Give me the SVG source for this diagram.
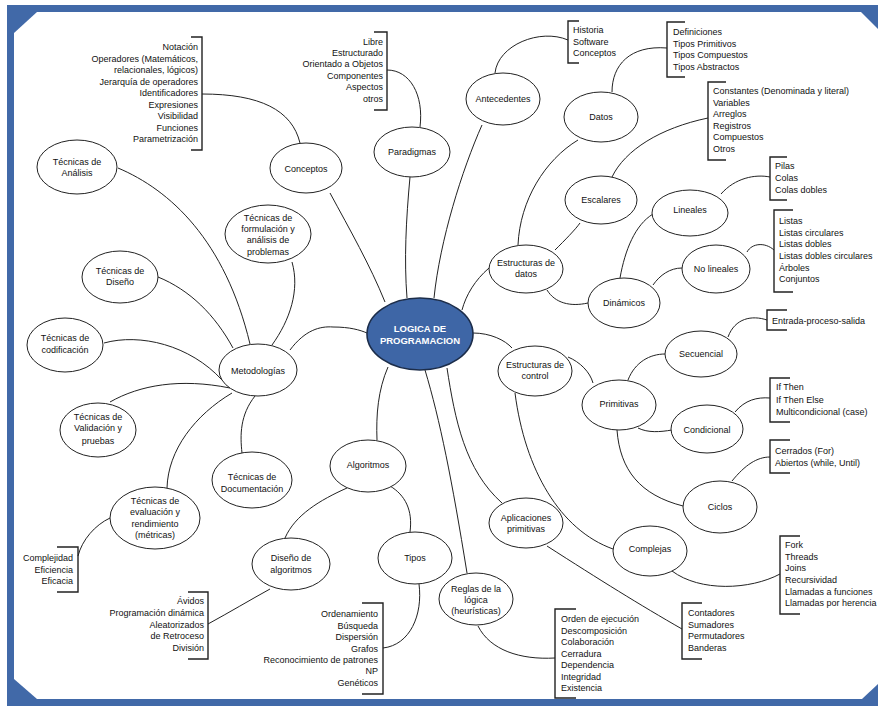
<svg xmlns="http://www.w3.org/2000/svg" width="878" height="706" viewBox="0 0 878 706">
<style>
.n{fill:#fff;stroke:#222;stroke-width:1}
.t{font-family:"Liberation Sans",Arial,sans-serif;font-size:9px;fill:#111;text-anchor:middle}
.l{font-family:"Liberation Sans",Arial,sans-serif;font-size:9px;fill:#111;text-anchor:start}
.r{font-family:"Liberation Sans",Arial,sans-serif;font-size:9px;fill:#111;text-anchor:end}
.c{fill:none;stroke:#222;stroke-width:1}
.b{fill:none;stroke:#222;stroke-width:1.4}
.f{fill:#4169a8}
</style>
<rect width="878" height="706" fill="#fff"/>
<g id="frame">
<rect class="f" x="7" y="5" width="871" height="7"/>
<rect class="f" x="7" y="5" width="7" height="701"/>
<rect class="f" x="7" y="699" width="871" height="7"/>
<polygon class="f" points="14,12 37,12 14,33"/>
<polygon class="f" points="14,679 14,699 37,699"/>
<polygon class="f" points="861,12 878,12 878,29"/>
<polygon class="f" points="862,699 878,699 878,684"/>
</g>
<g id="connectors">
<path class="c" d="M202,94 C260,94 292,110 300,143"/>
<path class="c" d="M387,70 C410,70 424,95 420,127"/>
<path class="c" d="M495,73 C498,45 540,28 568,40"/>
<path class="c" d="M667,48 C630,45 612,65 612,92"/>
<path class="c" d="M612,177 C625,150 660,128 708,118"/>
<path class="c" d="M721,194 C735,178 755,174 770,177"/>
<path class="c" d="M747,252 C752,243 765,242 774,250"/>
<path class="c" d="M728,337 C735,318 752,315 767,320"/>
<path class="c" d="M735,412 C745,400 757,397 770,398"/>
<path class="c" d="M732,481 C745,465 757,457 770,457"/>
<path class="c" d="M672,571 C700,592 750,590 780,574"/>
<path class="c" d="M547,546 C600,580 640,605 682,629"/>
<path class="c" d="M478,626 C490,650 520,660 555,658"/>
<path class="c" d="M419,584 C423,615 410,645 383,648"/>
<path class="c" d="M270,589 C250,600 230,612 208,624"/>
<path class="c" d="M110,518 C95,525 82,540 78,556"/>
<path class="c" d="M330,193 C350,230 370,265 385,302"/>
<path class="c" d="M410,177 C406,220 404,260 407,298"/>
<path class="c" d="M482,125 C462,170 440,240 434,298"/>
<path class="c" d="M578,140 C545,160 520,200 518,245"/>
<path class="c" d="M555,250 C565,240 575,230 580,223"/>
<path class="c" d="M620,278 C625,250 635,225 653,214"/>
<path class="c" d="M653,285 C660,275 670,268 682,268"/>
<path class="c" d="M547,290 C555,303 570,307 588,303"/>
<path class="c" d="M489,268 C475,280 466,295 462,310"/>
<path class="c" d="M473,333 C490,333 505,340 512,348"/>
<path class="c" d="M568,357 C580,362 590,372 593,383"/>
<path class="c" d="M628,380 C635,362 650,354 665,354"/>
<path class="c" d="M638,428 C648,433 660,432 672,430"/>
<path class="c" d="M617,430 C620,470 640,495 683,506"/>
<path class="c" d="M515,393 C525,470 560,530 613,549"/>
<path class="c" d="M447,368 C455,420 465,470 502,503"/>
<path class="c" d="M425,370 C440,420 452,480 467,573"/>
<path class="c" d="M388,367 C378,390 376,415 377,440"/>
<path class="c" d="M347,488 C320,500 295,515 285,538"/>
<path class="c" d="M390,486 C405,495 413,510 410,532"/>
<path class="c" d="M290,350 C305,330 320,326 333,327 C350,327 360,330 367,333"/>
<path class="c" d="M292,262 C300,290 290,320 272,345"/>
<path class="c" d="M118,168 C170,190 225,240 250,344"/>
<path class="c" d="M158,277 C190,290 215,315 233,348"/>
<path class="c" d="M104,343 C140,333 190,345 222,380"/>
<path class="c" d="M110,402 C140,385 180,378 230,388"/>
<path class="c" d="M167,488 C168,450 195,415 232,393"/>
<path class="c" d="M255,396 C240,415 240,435 242,453"/>
</g>
<g id="central">
<ellipse cx="420" cy="334" rx="53" ry="36" fill="#3e66a6" stroke="#1c2d4a" stroke-width="1.6"/>
<text x="420" y="332" font-family="'Liberation Sans',Arial,sans-serif" font-size="9.5" font-weight="bold" fill="#fff" text-anchor="middle">LOGICA DE</text>
<text x="420" y="344" font-family="'Liberation Sans',Arial,sans-serif" font-size="9.5" font-weight="bold" fill="#fff" text-anchor="middle">PROGRAMACION</text>
</g>
<g id="conceptos"><ellipse class="n" cx="306" cy="168" rx="36" ry="25"/><text class="t" x="306" y="172">Conceptos</text></g>
<g id="paradigmas"><ellipse class="n" cx="412" cy="152" rx="38" ry="25"/><text class="t" x="412" y="155">Paradigmas</text></g>
<g id="antecedentes"><ellipse class="n" cx="503" cy="99" rx="37" ry="26"/><text class="t" x="503" y="102">Antecedentes</text></g>
<g id="datos"><ellipse class="n" cx="601" cy="117" rx="37" ry="25"/><text class="t" x="601" y="120">Datos</text></g>
<g id="escalares"><ellipse class="n" cx="601" cy="200" rx="36" ry="24"/><text class="t" x="601" y="203">Escalares</text></g>
<g id="lineales"><ellipse class="n" cx="690" cy="213" rx="38" ry="23"/><text class="t" x="690" y="213">Lineales</text></g>
<g id="nolineales"><ellipse class="n" cx="716" cy="269" rx="34" ry="24"/><text class="t" x="716" y="272">No lineales</text></g>
<g id="dinamicos"><ellipse class="n" cx="624" cy="303" rx="36" ry="25"/><text class="t" x="624" y="306">Dinámicos</text></g>
<g id="estructurasdatos"><ellipse class="n" cx="526" cy="269" rx="37" ry="24"/><text class="t" x="526" y="266">Estructuras de</text><text class="t" x="526" y="277">datos</text></g>
<g id="estructurascontrol"><ellipse class="n" cx="535" cy="371" rx="37" ry="25"/><text class="t" x="535" y="368">Estructuras de</text><text class="t" x="535" y="379">control</text></g>
<g id="primitivas"><ellipse class="n" cx="619" cy="405" rx="37" ry="25"/><text class="t" x="619" y="407">Primitivas</text></g>
<g id="secuencial"><ellipse class="n" cx="701" cy="354" rx="36" ry="23"/><text class="t" x="701" y="357">Secuencial</text></g>
<g id="condicional"><ellipse class="n" cx="707" cy="429" rx="36" ry="24"/><text class="t" x="707" y="433">Condicional</text></g>
<g id="ciclos"><ellipse class="n" cx="720" cy="507" rx="37" ry="26"/><text class="t" x="720" y="510">Ciclos</text></g>
<g id="complejas"><ellipse class="n" cx="650" cy="551" rx="37" ry="25"/><text class="t" x="650" y="552">Complejas</text></g>
<g id="aplicaciones"><ellipse class="n" cx="526" cy="523" rx="37" ry="25"/><text class="t" x="526" y="521">Aplicaciones</text><text class="t" x="526" y="532">primitivas</text></g>
<g id="reglas"><ellipse class="n" cx="476" cy="599" rx="37" ry="26"/><text class="t" x="476" y="592">Reglas de la</text><text class="t" x="476" y="603">lógica</text><text class="t" x="476" y="614">(heurísticas)</text></g>
<g id="algoritmos"><ellipse class="n" cx="368" cy="466" rx="38" ry="26"/><text class="t" x="368" y="468">Algoritmos</text></g>
<g id="disenoalgoritmos"><ellipse class="n" cx="291" cy="564" rx="39" ry="26"/><text class="t" x="291" y="561">Diseño de</text><text class="t" x="291" y="573">algoritmos</text></g>
<g id="tipos"><ellipse class="n" cx="415" cy="558" rx="37" ry="26"/><text class="t" x="415" y="561">Tipos</text></g>
<g id="documentacion"><ellipse class="n" cx="252" cy="480" rx="40" ry="28"/><text class="t" x="252" y="480">Técnicas de</text><text class="t" x="252" y="492">Documentación</text></g>
<g id="metodologias"><ellipse class="n" cx="258" cy="370" rx="39" ry="26"/><text class="t" x="258" y="374">Metodologías</text></g>
<g id="formulacion"><ellipse class="n" cx="268" cy="234" rx="43" ry="29"/><text class="t" x="268" y="221">Técnicas de</text><text class="t" x="268" y="232">formulación y</text><text class="t" x="268" y="243">análisis de</text><text class="t" x="268" y="255">problemas</text></g>
<g id="analisis"><ellipse class="n" cx="77" cy="167" rx="40" ry="27"/><text class="t" x="77" y="165">Técnicas de</text><text class="t" x="77" y="176">Análisis</text></g>
<g id="diseno"><ellipse class="n" cx="120" cy="277" rx="38" ry="26"/><text class="t" x="120" y="274">Técnicas de</text><text class="t" x="120" y="285">Diseño</text></g>
<g id="codificacion"><ellipse class="n" cx="65" cy="345" rx="38" ry="27"/><text class="t" x="65" y="341">Técnicas de</text><text class="t" x="65" y="353">codificación</text></g>
<g id="validacion"><ellipse class="n" cx="98" cy="430" rx="38" ry="27"/><text class="t" x="98" y="420">Técnicas de</text><text class="t" x="98" y="431">Validación y</text><text class="t" x="98" y="444">pruebas</text></g>
<g id="evaluacion"><ellipse class="n" cx="155" cy="518" rx="45" ry="31"/><text class="t" x="155" y="504">Técnicas de</text><text class="t" x="155" y="515">evaluación y</text><text class="t" x="155" y="527">rendimiento</text><text class="t" x="155" y="538">(métricas)</text></g>
<g id="list-conceptos"><path class="b" d="M191,37 H202 V150 H191"/>
<text class="r" x="198" y="50">Notación</text><text class="r" x="198" y="61.5">Operadores (Matemáticos,</text><text class="r" x="198" y="73">relacionales, lógicos)</text><text class="r" x="198" y="84.5">Jerarquía de operadores</text><text class="r" x="198" y="96">Identificadores</text><text class="r" x="198" y="107.5">Expresiones</text><text class="r" x="198" y="119">Visibilidad</text><text class="r" x="198" y="130.5">Funciones</text><text class="r" x="198" y="142">Parametrización</text></g>
<g id="list-paradigmas"><path class="b" d="M374,32 H387 V110 H374"/>
<text class="r" x="383" y="45">Libre</text><text class="r" x="383" y="56">Estructurado</text><text class="r" x="383" y="67">Orientado a Objetos</text><text class="r" x="383" y="78.5">Componentes</text><text class="r" x="383" y="90">Aspectos</text><text class="r" x="383" y="101.5">otros</text></g>
<g id="list-antecedentes"><path class="b" d="M579,21 H568 V63 H579"/>
<text class="l" x="573" y="33">Historia</text><text class="l" x="573" y="45">Software</text><text class="l" x="573" y="56">Conceptos</text></g>
<g id="list-datos"><path class="b" d="M685,22 H667 V77 H685"/>
<text class="l" x="673" y="35">Definiciones</text><text class="l" x="673" y="46.5">Tipos Primitivos</text><text class="l" x="673" y="58">Tipos Compuestos</text><text class="l" x="673" y="69.5">Tipos Abstractos</text></g>
<g id="list-escalares"><path class="b" d="M726,82 H708 V160 H726"/>
<text class="l" x="713" y="94">Constantes (Denominada y literal)</text><text class="l" x="713" y="105.5">Variables</text><text class="l" x="713" y="117">Arreglos</text><text class="l" x="713" y="128.5">Registros</text><text class="l" x="713" y="140">Compuestos</text><text class="l" x="713" y="151.5">Otros</text></g>
<g id="list-lineales"><path class="b" d="M787,157 H770 V200 H787"/>
<text class="l" x="775" y="169">Pilas</text><text class="l" x="775" y="181">Colas</text><text class="l" x="775" y="193">Colas dobles</text></g>
<g id="list-nolineales"><path class="b" d="M793,210 H774 V292 H793"/>
<text class="l" x="779" y="224">Listas</text><text class="l" x="779" y="235.5">Listas circulares</text><text class="l" x="779" y="247">Listas dobles</text><text class="l" x="779" y="259">Listas dobles circulares</text><text class="l" x="779" y="270.5">Árboles</text><text class="l" x="779" y="282">Conjuntos</text></g>
<g id="list-secuencial"><path class="b" d="M787,310 H767 V330 H787"/>
<text class="l" x="772" y="324">Entrada-proceso-salida</text></g>
<g id="list-condicional"><path class="b" d="M790,378 H770 V422 H790"/>
<text class="l" x="776" y="390">If Then</text><text class="l" x="776" y="402.5">If Then Else</text><text class="l" x="776" y="415">Multicondicional (case)</text></g>
<g id="list-ciclos"><path class="b" d="M790,440 H770 V473 H790"/>
<text class="l" x="775" y="454">Cerrados (For)</text><text class="l" x="775" y="466">Abiertos (while, Until)</text></g>
<g id="list-complejas"><path class="b" d="M800,536 H780 V614 H800"/>
<text class="l" x="785" y="548">Fork</text><text class="l" x="785" y="559.7">Threads</text><text class="l" x="785" y="571.3">Joins</text><text class="l" x="785" y="583">Recursividad</text><text class="l" x="785" y="594.7">Llamadas a funciones</text><text class="l" x="785" y="606.3">Llamadas por herencia</text></g>
<g id="list-aplicaciones"><path class="b" d="M702,603 H682 V659 H702"/>
<text class="l" x="688" y="616">Contadores</text><text class="l" x="688" y="627.5">Sumadores</text><text class="l" x="688" y="639">Permutadores</text><text class="l" x="688" y="651">Banderas</text></g>
<g id="list-reglas"><path class="b" d="M576,609 H555 V698 H576"/>
<text class="l" x="561" y="622">Orden de ejecución</text><text class="l" x="561" y="633.5">Descomposición</text><text class="l" x="561" y="645">Colaboración</text><text class="l" x="561" y="656.5">Cerradura</text><text class="l" x="561" y="668">Dependencia</text><text class="l" x="561" y="680">Integridad</text><text class="l" x="561" y="691">Existencia</text></g>
<g id="list-tipos"><path class="b" d="M362,603 H383 V694 H362"/>
<text class="r" x="378" y="617">Ordenamiento</text><text class="r" x="378" y="629">Búsqueda</text><text class="r" x="378" y="640">Dispersión</text><text class="r" x="378" y="651.5">Grafos</text><text class="r" x="378" y="663">Reconocimiento de patrones</text><text class="r" x="378" y="674">NP</text><text class="r" x="378" y="685.5">Genéticos</text></g>
<g id="list-disenoalgoritmos"><path class="b" d="M188,592 H208 V659 H188"/>
<text class="r" x="204" y="604">Ávidos</text><text class="r" x="204" y="616">Programación dinámica</text><text class="r" x="204" y="627.5">Aleatorizados</text><text class="r" x="204" y="639">de Retroceso</text><text class="r" x="204" y="651">División</text></g>
<g id="list-evaluacion"><path class="b" d="M57,547 H78 V592 H57"/>
<text class="r" x="73" y="561">Complejidad</text><text class="r" x="73" y="572.5">Eficiencia</text><text class="r" x="73" y="584">Eficacia</text></g>
</svg>
